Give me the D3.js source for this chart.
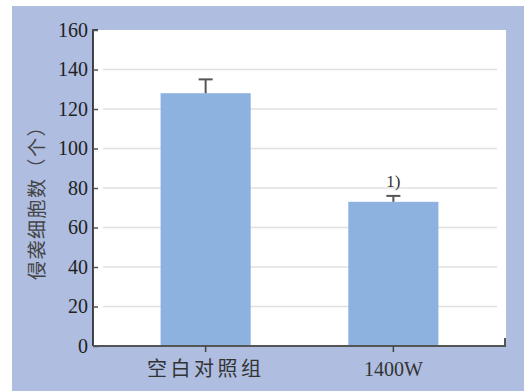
<!DOCTYPE html>
<html>
<head>
<meta charset="utf-8">
<script src="https://cdn.jsdelivr.net/npm/d3@7"></script>
<style>
  html, body { margin: 0; padding: 0; background: #ffffff; }
  svg { display: block; }
</style>
</head>
<body>
<svg id="chart" width="524" height="391"></svg>
<script>
// Invading cell counts per group, with standard deviation
const categories = ["空白对照组", "1400W"];
const means = [128, 73];
const errors = [7, 3];
const marks = ["", "1)"];
const yTicks = [0, 20, 40, 60, 80, 100, 120, 140, 160];
const yTitle = "侵袭细胞数（个）";

const svg = d3.select("#chart");
const W = 524, H = 391;
const plot = { left: 93, right: 506, top: 30, bottom: 346 };

const serif = "'Liberation Serif', 'DejaVu Serif', serif";
const cjk = "'Noto Sans CJK SC', 'Noto Sans', sans-serif";

// outer panel
svg.append("rect").attr("x", 12).attr("y", 6).attr("width", W - 12).attr("height", H - 6)
  .attr("fill", "#aebde0");
// inner white plotting area
svg.append("rect").attr("x", plot.left).attr("y", plot.top)
  .attr("width", plot.right - plot.left).attr("height", plot.bottom - plot.top)
  .attr("fill", "#ffffff");

const y = d3.scaleLinear().domain([0, 160]).range([plot.bottom, plot.top]);
const x = d3.scaleBand().domain(categories).range([plot.left, plot.right])
  .paddingInner(0.52).paddingOuter(0.36);

// horizontal grid
svg.append("g").selectAll("line").data(yTicks.filter(d => d > 0 && d < 160)).join("line")
  .attr("x1", 103).attr("x2", 497)
  .attr("y1", d => y(d)).attr("y2", d => y(d))
  .attr("stroke", "#e0e0e0").attr("stroke-width", 1.5);

// bars
svg.append("g").selectAll("rect").data(categories).join("rect")
  .attr("x", d => x(d)).attr("width", x.bandwidth())
  .attr("y", (d, i) => y(means[i]))
  .attr("height", (d, i) => y(0) - y(means[i]))
  .attr("fill", "#8db2e0");

// error bars (upper whisker)
const eb = svg.append("g").attr("stroke", "#555").attr("stroke-width", 2);
categories.forEach((c, i) => {
  const cx = x(c) + x.bandwidth() / 2;
  eb.append("line").attr("x1", cx).attr("x2", cx)
    .attr("y1", y(means[i])).attr("y2", y(means[i] + errors[i]));
  eb.append("line").attr("x1", cx - 7).attr("x2", cx + 7)
    .attr("y1", y(means[i] + errors[i])).attr("y2", y(means[i] + errors[i]));
  if (marks[i]) {
    svg.append("text").attr("x", cx).attr("y", y(means[i] + errors[i]) - 9)
      .attr("text-anchor", "middle").attr("font-family", serif).attr("font-size", 17)
      .attr("fill", "#333").text(marks[i]);
  }
});

// y axis
const yAxis = d3.axisLeft(y).tickValues(yTicks).tickSize(-5).tickPadding(10);
const gy = svg.append("g").attr("transform", `translate(${plot.left},0)`).call(yAxis);
gy.select(".domain").attr("stroke", "#111").attr("stroke-width", 1.5)
  .attr("d", `M0,${plot.bottom}V${plot.top}H5`);
gy.selectAll(".tick line").attr("stroke", "#555").attr("stroke-width", 1.5);
gy.selectAll(".tick text").attr("font-family", serif).attr("font-size", 20)
  .attr("fill", "#222").attr("x", -5);

// x axis
const xAxis = d3.axisBottom(x).tickSize(6).tickPadding(10);
const gx = svg.append("g").attr("transform", `translate(0,${plot.bottom})`).call(xAxis);
gx.select(".domain").attr("stroke", "#555").attr("stroke-width", 2)
  .attr("d", `M${plot.left},0H${plot.right - 1}V-8`);
gx.selectAll(".tick line").attr("stroke", "#444").attr("stroke-width", 1.5);
gx.selectAll(".tick text")
  .attr("font-family", d => d === "1400W" ? serif : cjk)
  .attr("font-size", 20).attr("fill", "#333")
  .attr("letter-spacing", d => d === "1400W" ? 0 : 3.5);

// y title
svg.append("text")
  .attr("transform", `translate(44,${(plot.top + plot.bottom) / 2 + 10}) rotate(-90)`)
  .attr("text-anchor", "middle").attr("font-family", cjk).attr("font-size", 19)
  .attr("fill", "#444").attr("letter-spacing", 1.5).text(yTitle);
</script>
</body>
</html>
